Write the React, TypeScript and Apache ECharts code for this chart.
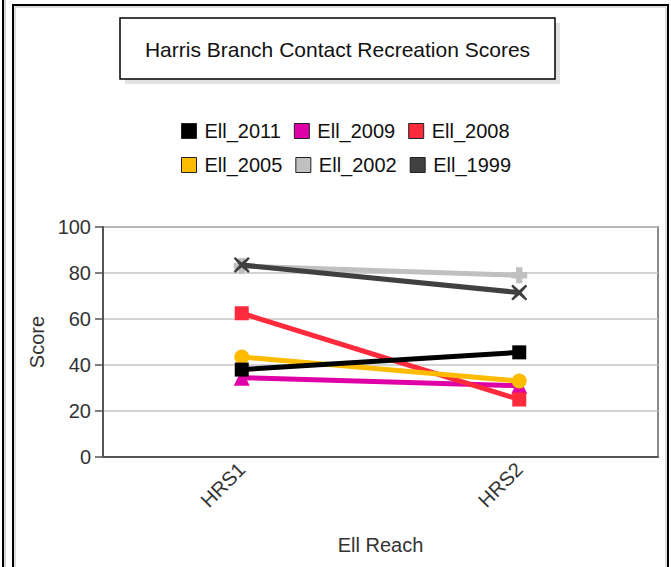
import React, { useEffect, useRef } from "react";
import * as echarts from "echarts";

const categories = ["HRS1", "HRS2"];
const seriesNames = ["Ell_2011", "Ell_2009", "Ell_2008", "Ell_2005", "Ell_2002", "Ell_1999"];
const ell2011 = [38, 45.5];
const ell2009 = [34.5, 31];
const ell2008 = [62.5, 25];
const ell2005 = [43.5, 33];
const ell2002 = [83, 79];
const ell1999 = [83.5, 71.5];
const yTicks = [0, 20, 40, 60, 80, 100];

const colors = ["#000000", "#e000a8", "#ff2a3c", "#ffbb00", "#c0c0c0", "#404040"];
const PLUS = "path://M3,0 L7,0 L7,3 L10,3 L10,7 L7,7 L7,10 L3,10 L3,7 L0,7 L0,3 L3,3 Z";
const CROSS = "path://M1,0 L5,3.5 L9,0 L10,1 L6.5,5 L10,9 L9,10 L5,6.5 L1,10 L0,9 L3.5,5 L0,1 Z";
const symbols = ["rect", "triangle", "rect", "circle", PLUS, CROSS];
const data = [ell2011, ell2009, ell2008, ell2005, ell2002, ell1999];

export default function App() {
  const ref = useRef<HTMLDivElement>(null);
  useEffect(() => {
    const chart = echarts.init(ref.current!, null, { renderer: "svg" });
    const font = "Arial, 'Liberation Sans', sans-serif";
    const legendCommon = {
      left: 181,
      padding: 0,
      itemWidth: 15,
      itemHeight: 15,
      itemGap: 13,
      icon: "rect",
      textStyle: { fontSize: 20, color: "#111", fontFamily: font, padding: [0, 0, 0, 3] },
      itemStyle: { borderColor: "#222", borderWidth: 1 },
    };
    chart.setOption({
      animation: false,
      backgroundColor: "#ffffff",
      textStyle: { fontFamily: font },
      graphic: [
        { type: "line", shape: { x1: 3, y1: 0, x2: 3, y2: 567 }, style: { stroke: "#000", lineWidth: 2 } },
        { type: "line", shape: { x1: 5, y1: 0, x2: 5, y2: 567 }, style: { stroke: "#aaa", lineWidth: 1 } },
        { type: "rect", shape: { x: 13, y: 5, width: 655, height: 600 }, style: { fill: "none", stroke: "#000", lineWidth: 2 } },
        { type: "rect", shape: { x: 15, y: 7, width: 651, height: 600 }, style: { fill: "none", stroke: "#bbb", lineWidth: 1 } },
        { type: "rect", shape: { x: 125, y: 23, width: 435, height: 61 }, style: { fill: "#e2e2e2" } },
        { type: "rect", shape: { x: 120, y: 18, width: 435, height: 61 }, style: { fill: "#fff", stroke: "#000", lineWidth: 1.5 } },
        {
          type: "text",
          x: 337.5,
          y: 49,
          style: { text: "Harris Branch Contact Recreation Scores", fontSize: 21, fontFamily: font, fill: "#111", align: "center", verticalAlign: "middle" },
        },
      ],
      legend: [
        { ...legendCommon, top: 121, data: seriesNames.slice(0, 3) },
        { ...legendCommon, top: 155, data: seriesNames.slice(3, 6) },
      ],
      grid: { left: 103, top: 227, right: 13, bottom: 110, show: true, borderColor: "#666", borderWidth: 1.5, containLabel: false },
      xAxis: {
        type: "category",
        data: categories,
        boundaryGap: true,
        name: "Ell Reach",
        nameLocation: "middle",
        nameGap: 78,
        nameTextStyle: { fontSize: 20, color: "#333", fontFamily: font },
        axisLine: { lineStyle: { color: "#555", width: 2 } },
        axisTick: { alignWithLabel: true, length: 7, lineStyle: { color: "#555", width: 1.5 } },
        axisLabel: { rotate: 45, fontSize: 20, color: "#333", margin: 9, fontFamily: font },
        splitLine: { show: false },
      },
      yAxis: {
        type: "value",
        min: 0,
        max: 100,
        interval: 20,
        name: "Score",
        nameLocation: "middle",
        nameGap: 55,
        nameRotate: 90,
        nameTextStyle: { fontSize: 20, color: "#333", fontFamily: font },
        axisLine: { show: true, lineStyle: { color: "#555", width: 2 } },
        axisTick: { show: true, length: 8, lineStyle: { color: "#555", width: 1.5 } },
        axisLabel: {
          fontSize: 20,
          color: "#333",
          margin: 12,
          fontFamily: font,
          formatter: (v: number) => (yTicks.includes(v) ? String(v) : ""),
        },
        splitLine: { lineStyle: { color: "#c4c4c4", width: 1.5 } },
      },
      series: seriesNames.map((name, i) => ({
        name,
        type: "line",
        data: data[i],
        symbol: symbols[i],
        symbolSize: i === 3 ? 15 : i === 1 ? 16 : i >= 4 ? 16 : 14,
        lineStyle: { color: colors[i], width: 5 },
        itemStyle: { color: colors[i] },
        z: [7, 3, 5, 6, 2, 4][i],
      })),
    });
    return () => chart.dispose();
  }, []);
  return <div ref={ref} style={{ position: "absolute", left: 0, top: 0, width: 671, height: 567 }} />;
}
